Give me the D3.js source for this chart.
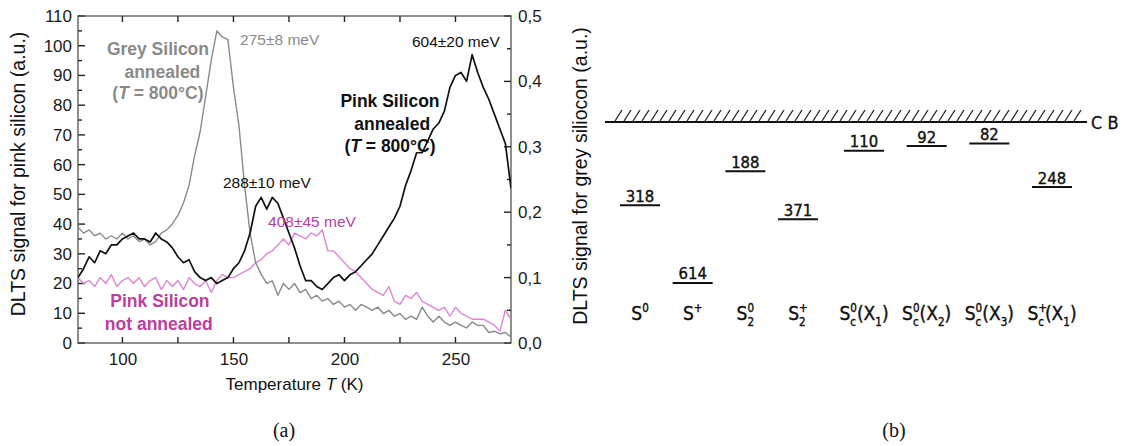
<!DOCTYPE html>
<html lang="en">
<head>
<meta charset="utf-8">
<title>DLTS - silicio gris y rosa</title>
<script src="https://cdn.jsdelivr.net/npm/d3@7"></script>
<style>
  body { margin: 0; background: #fff; }
  svg { display: block; }
</style>
</head>
<body>
<div id="grafico"></div>
<script>
/**************************************************
 * Data
***************************************************/

// Temperatura (K), common to the three DLTS scans
const temps = [80, 82.5, 85, 87.5, 90, 92.5, 95, 97.5, 100, 102.5,
  105, 107.5, 110, 112.5, 115, 117.5, 120, 122.5, 125, 127.5,
  130, 132.5, 135, 137.5, 140, 142.5, 145, 147.5, 150, 152.5,
  155, 157.5, 160, 162.5, 165, 167.5, 170, 172.5, 175, 177.5,
  180, 182.5, 185, 187.5, 190, 192.5, 195, 197.5, 200, 202.5,
  205, 207.5, 210, 212.5, 215, 217.5, 220, 222.5, 225, 227.5,
  230, 232.5, 235, 237.5, 240, 242.5, 245, 247.5, 250, 252.5,
  255, 257.5, 260, 262.5, 265, 267.5, 270, 272.5, 275];

// grey silicon annealed (right axis, a.u.)
const greyAnnealed = [0.177, 0.168, 0.173, 0.164, 0.168, 0.159, 0.164, 0.159, 0.168, 0.159,
  0.164, 0.155, 0.159, 0.150, 0.155, 0.168, 0.173, 0.182, 0.195, 0.214,
  0.241, 0.286, 0.323, 0.377, 0.432, 0.477, 0.468, 0.464, 0.391, 0.332,
  0.241, 0.168, 0.123, 0.105, 0.091, 0.095, 0.073, 0.091, 0.082, 0.091,
  0.077, 0.082, 0.068, 0.073, 0.064, 0.068, 0.059, 0.064, 0.055, 0.059,
  0.050, 0.059, 0.055, 0.050, 0.055, 0.045, 0.050, 0.041, 0.045, 0.036,
  0.041, 0.036, 0.055, 0.041, 0.032, 0.041, 0.032, 0.027, 0.032, 0.027,
  0.023, 0.032, 0.027, 0.027, 0.016, 0.018, 0.014, 0.016, 0.009];

// pink silicon annealed (left axis, a.u.)
const pinkAnnealed = [22, 25, 29, 27, 31, 30, 33, 33, 35, 36,
  37, 35, 35, 34, 37, 35, 34, 32, 29, 27,
  28, 24, 22, 21, 22, 20, 21, 22, 25, 27,
  31, 37, 46, 49, 45, 49, 47, 42, 37, 32,
  26, 21, 21, 19, 18, 20, 22, 23, 21, 23,
  24, 26, 28, 30, 33, 36, 39, 42, 46, 53,
  58, 64, 64, 68, 72, 74, 78, 86, 90, 91,
  88, 97, 91, 86, 82, 77, 72, 67, 52];

// pink silicon not annealed (left axis, a.u.)
const pinkRaw = [22, 20, 21, 19, 22, 20, 23, 19, 21, 22,
  20, 22, 19, 21, 22, 18, 21, 19, 21, 18,
  22, 20, 19, 21, 17, 21, 23, 22, 22, 23,
  24, 25, 27, 28, 30, 31, 33, 35, 33, 37,
  36, 35, 37, 36, 38, 31, 31, 29, 27, 25,
  24, 22, 20, 18, 17, 16, 19, 14, 13, 16,
  15, 17, 14, 13, 12, 11, 12, 9, 12, 10,
  9, 8, 8, 8, 7, 6, 4, 11, 8];

// ticks
const xTicks = [100, 150, 200, 250];
const xMinor = [100, 125, 150, 175, 200, 225, 250];
const pinkTicks = [0, 10, 20, 30, 40, 50, 60, 70, 80, 90, 100, 110];
const pinkMinor = [5, 15, 25, 35, 45, 55, 65, 75, 85, 95, 105];
const greyTicks = [0, 0.1, 0.2, 0.3, 0.4, 0.5];
const greyMinor = [0.05, 0.15, 0.25, 0.35, 0.45];

// panel (b): sulfur levels below the conduction band (meV)
const levelEnergy = [318, 614, 188, 371, 110, 92, 82, 248];
const levelCharge = ["0", "+", "0", "+", "0", "0", "0", "+"];
const levelSub = ["", "", "2", "2", "c", "c", "c", "c"];
const levelSite = ["", "", "", "", "1", "2", "3", "1"];

/**************************************************
 * SVG Element
***************************************************/
const width = 1124;
const height = 446;
const sans = "'Liberation Sans', Arial, sans-serif";
const hand = "'DejaVu Sans Condensed', 'DejaVu Sans', sans-serif";
const magenta = "#b8409f";

const svg = d3.select("#grafico")
  .append("svg")
  .attr("width", width)
  .attr("height", height)
  .style("background", "#fff");

/**************************************************
 * Panel (a) - Scales
***************************************************/
const area = { left: 78, right: 511, top: 16, bottom: 343 };

const xScale = d3.scaleLinear().domain([80, 275]).range([area.left, area.right]);
const yPink = d3.scaleLinear().domain([0, 110]).range([area.bottom, area.top]);
const yGrey = d3.scaleLinear().domain([0, 0.5]).range([area.bottom, area.top]);

const estiloTicks = (g) => {
  g.select(".domain").remove();
  g.selectAll(".tick line").remove();
  g.selectAll("text")
    .style("font-family", sans)
    .style("font-size", "17px")
    .attr("fill", "#1a1a1a");
};

/**************************************************
 * Panel (a) - Axis labels
***************************************************/
const comaDecimal = d => d3.format(".1f")(d).replace(".", ",");

svg.append("g")
  .attr("transform", `translate(${area.left},0)`)
  .call(d3.axisLeft(yPink).tickValues(pinkTicks).tickSize(0).tickPadding(6))
  .call(estiloTicks);

svg.append("g")
  .attr("transform", `translate(${area.right},0)`)
  .call(d3.axisRight(yGrey).tickValues(greyTicks).tickSize(0).tickPadding(7).tickFormat(comaDecimal))
  .call(estiloTicks);

svg.append("g")
  .attr("transform", `translate(0,${area.bottom})`)
  .call(d3.axisBottom(xScale).tickValues(xTicks).tickSize(0).tickPadding(10))
  .call(estiloTicks);

/**************************************************
 * Panel (a) - Tick marks (pointing inwards)
***************************************************/
const marcas = svg.append("g");

const marcasY = (valores, escala, x0, largo) => {
  marcas.selectAll(null)
    .data(valores)
    .enter()
    .append("line")
    .attr("x1", x0).attr("x2", x0 + largo)
    .attr("y1", d => escala(d)).attr("y2", d => escala(d))
    .attr("stroke", "#222")
    .attr("stroke-width", 1.4);
};
const marcasX = (valores, y0, largo) => {
  marcas.selectAll(null)
    .data(valores)
    .enter()
    .append("line")
    .attr("x1", d => xScale(d)).attr("x2", d => xScale(d))
    .attr("y1", y0).attr("y2", y0 + largo)
    .attr("stroke", "#222")
    .attr("stroke-width", 1.4);
};

marcasY(pinkTicks, yPink, area.left, 7);
marcasY(pinkMinor, yPink, area.left, 4);
marcasY(greyTicks, yGrey, area.right, -7);
marcasY(greyMinor, yGrey, area.right, -4);
marcasX(xMinor, area.bottom, -6);
marcasX(xMinor, area.top, 6);

// frame
svg.append("rect")
  .attr("x", area.left)
  .attr("y", area.top)
  .attr("width", area.right - area.left)
  .attr("height", area.bottom - area.top)
  .attr("fill", "none")
  .attr("stroke", "#444")
  .attr("stroke-width", 1.2);

/**************************************************
 * Panel (a) - Lines
***************************************************/
svg.append("clipPath")
  .attr("id", "recorte")
  .append("rect")
  .attr("x", area.left)
  .attr("y", area.top)
  .attr("width", area.right - area.left)
  .attr("height", area.bottom - area.top);

const series = [
  { valores: pinkRaw, y: yPink, color: "#de86d3", ancho: 1.4 },
  { valores: greyAnnealed, y: yGrey, color: "#8a8a8a", ancho: 1.4 },
  { valores: pinkAnnealed, y: yPink, color: "#111", ancho: 1.7 }
];

series.forEach(s => {
  const linea = d3.line()
    .x((d, i) => xScale(temps[i]))
    .y(d => s.y(d));
  svg.append("path")
    .datum(s.valores)
    .attr("clip-path", "url(#recorte)")
    .attr("fill", "none")
    .attr("stroke", s.color)
    .attr("stroke-width", s.ancho)
    .attr("stroke-linejoin", "round")
    .attr("d", linea);
});

/**************************************************
 * Panel (a) - Texts
***************************************************/
const texto = (x, y, str, opts = {}) => svg.append("text")
  .attr("x", x)
  .attr("y", y)
  .attr("text-anchor", opts.anchor || "start")
  .attr("fill", opts.color || "#111")
  .style("font-family", opts.family || sans)
  .style("font-size", opts.size || "15.5px")
  .style("font-weight", opts.weight || "normal")
  .text(str);

const conT = (x, y, opts) => {
  const t = texto(x, y, "", opts);
  t.append("tspan").text("(");
  t.append("tspan").style("font-style", "italic").text("T");
  t.append("tspan").text(" = 800°C)");
  return t;
};

// energy labels
texto(xScale(153), yPink(100.2), "275±8 meV", { color: "#8a8a8a" });
texto(xScale(230.4), yPink(99.6), "604±20 meV");
texto(xScale(145.3), yPink(52.1), "288±10 meV");
texto(xScale(165.6), yPink(39), "408±45 meV", { color: magenta });

// sample labels
const bold = { weight: "bold", size: "17.5px", anchor: "middle" };
texto(xScale(116), yPink(96.9), "Grey Silicon", { ...bold, color: "#8a8a8a" });
texto(xScale(118), yPink(89.1), "annealed", { ...bold, color: "#8a8a8a" });
conT(xScale(116), yPink(82.1), { ...bold, color: "#8a8a8a" });

texto(xScale(220.5), yPink(79.4), "Pink Silicon", bold);
texto(xScale(221.5), yPink(71.7), "annealed", bold);
conT(xScale(220.5), yPink(64.3), bold);

texto(xScale(116.9), yPink(12.1), "Pink Silicon", { ...bold, color: magenta });
texto(xScale(116.4), yPink(4.4), "not annealed", { ...bold, color: magenta });

// axis titles
const eje = texto(0, 0, "", { anchor: "middle", size: "17px" })
  .attr("x", xScale(177.5))
  .attr("y", 390);
eje.append("tspan").text("Temperature ");
eje.append("tspan").style("font-style", "italic").text("T");
eje.append("tspan").text(" (K)");

texto(0, 0, "DLTS signal for pink silicon (a.u.)", { anchor: "middle", size: "19.5px" })
  .attr("transform", "translate(25,174) rotate(-90)");
texto(0, 0, "DLTS signal for grey siliocon (a.u.)", { anchor: "middle", size: "19.5px" })
  .attr("transform", "translate(587,176) rotate(-90)");

// panel captions
const serif = "'Liberation Serif', 'Times New Roman', serif";
texto(284, 437, "(a)", { anchor: "middle", family: serif, size: "20px" });
texto(894, 437, "(b)", { anchor: "middle", family: serif, size: "20px" });

/**************************************************
 * Panel (b) - Scales
***************************************************/
const n = levelEnergy.length;
// first four are isolated centres (narrow labels), the rest are complexes
const xLevel = d3.scaleLinear().domain([0, 3, 4, n - 1]).range([640, 798, 864, 1052]);
const yLevel = d3.scaleLinear().domain([0, 600]).range([122, 279.3]);

/**************************************************
 * Panel (b) - Conduction band
***************************************************/
const cbX = [605, 1087];
svg.append("line")
  .attr("x1", cbX[0]).attr("x2", cbX[1])
  .attr("y1", yLevel(0)).attr("y2", yLevel(0))
  .attr("stroke", "#111")
  .attr("stroke-width", 2.2);

svg.append("g")
  .selectAll("line")
  .data(d3.range(615, 1082, 9))
  .enter()
  .append("line")
  .attr("x1", d => d).attr("y1", yLevel(0) - 1)
  .attr("x2", d => d + 7).attr("y2", yLevel(0) - 12)
  .attr("stroke", "#222")
  .attr("stroke-width", 1.3);

texto(1091, yLevel(0) + 7, "C B", { family: hand, size: "18px", color: "#111" })
  .attr("stroke", "#111").attr("stroke-width", 0.3);

/**************************************************
 * Panel (b) - Levels
***************************************************/
const niveles = svg.append("g")
  .selectAll("g")
  .data(levelEnergy)
  .enter()
  .append("g");

niveles.append("line")
  .attr("x1", (d, i) => xLevel(i) - 20)
  .attr("x2", (d, i) => xLevel(i) + 20)
  .attr("y1", d => yLevel(d))
  .attr("y2", d => yLevel(d))
  .attr("stroke", "#111")
  .attr("stroke-width", 2);

niveles.append("text")
  .attr("x", (d, i) => xLevel(i))
  .attr("y", d => yLevel(d) - 3.5)
  .attr("text-anchor", "middle")
  .attr("fill", "#111")
  .attr("stroke", "#111")
  .attr("stroke-width", 0.4)
  .style("font-family", hand)
  .style("font-size", "16.5px")
  .text(d => d);

/**************************************************
 * Panel (b) - Centre names (S with stacked super/subscripts)
***************************************************/
levelEnergy.forEach((d, i) => {
  const t = svg.append("text")
    .attr("x", 0)
    .attr("y", 320)
    .attr("fill", "#111")
    .attr("stroke", "#111")
    .attr("stroke-width", 0.4)
    .style("font-family", hand);

  let nivel = 0;
  const parte = (str, size, dy) => {
    const ts = t.append("tspan")
      .attr("dy", dy - nivel)
      .style("font-size", size)
      .text(str);
    nivel = dy;
    return ts;
  };

  parte("S", "19px", 0);
  const sup = parte(levelCharge[i], "11.5px", -8);
  if (levelSub[i]) {
    parte(levelSub[i], "11.5px", 6).attr("dx", -sup.node().getComputedTextLength());
  }
  if (levelSite[i]) {
    parte("(X", "19px", 0).attr("dx", 1);
    parte(levelSite[i], "11.5px", 6);
    parte(")", "19px", 0);
  }

  const caja = t.node().getBBox();
  t.attr("transform", `translate(${xLevel(i) - caja.x - caja.width / 2},0)`);
});
</script>
</body>
</html>
